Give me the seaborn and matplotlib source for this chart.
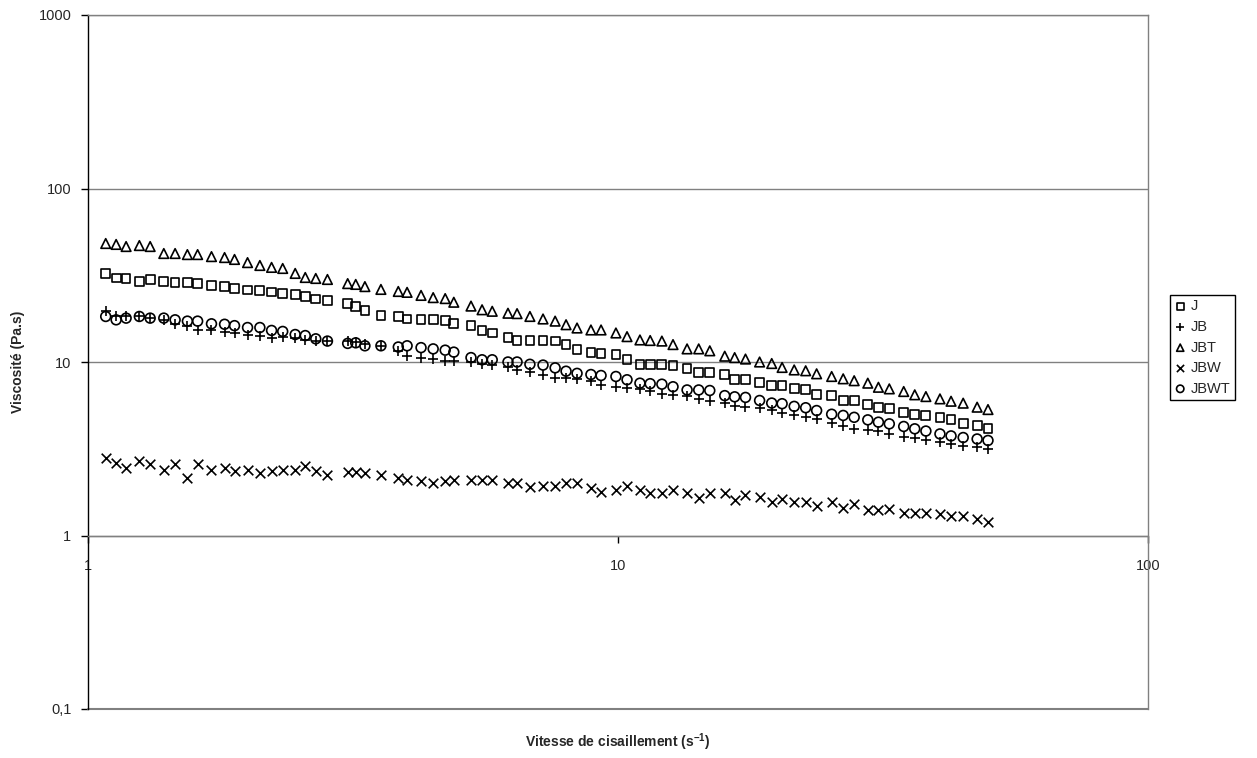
import numpy as np
import pandas as pd
import seaborn as sns
import matplotlib.pyplot as plt

# Shear rate (s-1), shared by all samples
shear_rate = [1.08, 1.13, 1.18, 1.25, 1.31, 1.39, 1.46, 1.54, 1.61, 1.71,
              1.81, 1.89, 2.00, 2.11, 2.22, 2.33, 2.46, 2.57, 2.69, 2.83,
              3.09, 3.20, 3.33, 3.57, 3.85, 4.00, 4.25, 4.48, 4.72, 4.90,
              5.28, 5.54, 5.79, 6.20, 6.45, 6.82, 7.22, 7.61, 7.98, 8.37,
              8.89, 9.29, 9.91, 10.4, 11.0, 11.5, 12.1, 12.7, 13.5, 14.2,
              14.9, 15.9, 16.6, 17.4, 18.5, 19.5, 20.4, 21.5, 22.6, 23.7,
              25.3, 26.6, 27.9, 29.6, 31.0, 32.5, 34.6, 36.3, 38.1, 40.5,
              42.5, 44.8, 47.6, 49.9]

# Viscosity (Pa.s) per sample
visc_J = [32.2, 30.5, 30.2, 29.0, 30.0, 29.2, 28.8, 28.6, 28.3, 27.6,
          27.2, 26.5, 26.0, 25.8, 25.3, 24.9, 24.4, 23.8, 23.1, 22.6,
          21.8, 20.9, 19.8, 18.6, 18.3, 17.7, 17.5, 17.5, 17.4, 16.7,
          16.3, 15.2, 14.7, 13.9, 13.3, 13.3, 13.3, 13.2, 12.6, 11.8,
          11.4, 11.2, 11.0, 10.3, 9.7, 9.7, 9.7, 9.55, 9.14, 8.74,
          8.74, 8.47, 7.9, 7.9, 7.65, 7.32, 7.32, 7.0, 6.92, 6.5,
          6.41, 6.0, 6.0, 5.69, 5.49, 5.42, 5.14, 4.96, 4.92, 4.77,
          4.64, 4.40, 4.30, 4.12]
visc_JB = [19.8, 18.3, 18.5, 18.3, 17.9, 17.5, 16.6, 16.2, 15.3, 15.2,
           14.8, 14.6, 14.4, 14.2, 13.7, 13.9, 13.7, 13.4, 13.3, 13.3,
           13.2, 13.0, 12.7, 12.4, 11.5, 10.9, 10.6, 10.4, 10.2, 10.2,
           10.0, 9.7, 9.55, 9.4, 9.0, 8.8, 8.4, 8.1, 8.1, 8.0,
           7.75, 7.4, 7.2, 7.1, 7.0, 6.8, 6.5, 6.45, 6.4, 6.1,
           5.95, 5.8, 5.6, 5.5, 5.4, 5.3, 5.1, 4.95, 4.8, 4.7,
           4.44, 4.3, 4.12, 4.06, 4.0, 3.85, 3.72, 3.65, 3.53, 3.45,
           3.35, 3.3, 3.23, 3.16]
visc_JBT = [48.2, 47.6, 46.3, 46.9, 46.3, 42.2, 42.2, 41.6, 41.6, 40.5,
            40.0, 39.0, 37.4, 36.0, 35.1, 34.6, 32.4, 30.7, 30.3, 29.9,
            28.3, 28.0, 27.2, 26.2, 25.5, 25.2, 24.2, 23.5, 23.2, 22.1,
            21.0, 20.0, 19.6, 19.1, 19.0, 18.3, 17.7, 17.2, 16.4, 15.7,
            15.3, 15.3, 14.7, 14.0, 13.4, 13.3, 13.2, 12.6, 11.9, 11.9,
            11.6, 10.8, 10.6, 10.4, 10.0, 9.8, 9.3, 9.0, 8.9, 8.55,
            8.25, 8.0, 7.8, 7.55, 7.15, 7.0, 6.76, 6.47, 6.32, 6.13,
            5.94, 5.79, 5.49, 5.32]
visc_JBW = [2.80, 2.62, 2.46, 2.68, 2.57, 2.40, 2.57, 2.15, 2.57, 2.38,
            2.46, 2.35, 2.40, 2.28, 2.35, 2.38, 2.40, 2.51, 2.35, 2.22,
            2.32, 2.32, 2.28, 2.22, 2.15, 2.10, 2.06, 2.01, 2.06, 2.10,
            2.10, 2.10, 2.10, 2.01, 2.01, 1.91, 1.92, 1.92, 2.01, 2.00,
            1.88, 1.78, 1.84, 1.92, 1.83, 1.75, 1.75, 1.83, 1.75, 1.65,
            1.75, 1.75, 1.60, 1.71, 1.67, 1.56, 1.62, 1.56, 1.56, 1.48,
            1.56, 1.44, 1.52, 1.41, 1.41, 1.42, 1.35, 1.35, 1.35, 1.33,
            1.30, 1.29, 1.24, 1.20]
visc_JBWT = [18.3, 17.5, 17.9, 18.3, 17.9, 17.9, 17.5, 17.2, 17.2, 16.6,
             16.5, 16.2, 15.8, 15.8, 15.2, 15.0, 14.4, 14.2, 13.6, 13.2,
             12.8, 12.9, 12.4, 12.4, 12.2, 12.4, 12.1, 11.9, 11.7, 11.4,
             10.6, 10.3, 10.3, 10.0, 10.0, 9.7, 9.6, 9.25, 8.85, 8.6,
             8.47, 8.36, 8.25, 7.9, 7.55, 7.5, 7.45, 7.2, 6.9, 6.9,
             6.85, 6.4, 6.3, 6.25, 6.0, 5.8, 5.75, 5.55, 5.45, 5.25,
             5.0, 4.92, 4.8, 4.64, 4.5, 4.4, 4.25, 4.12, 4.0, 3.85,
             3.75, 3.67, 3.6, 3.53]

series_names = ['J', 'JB', 'JBT', 'JBW', 'JBWT']
y_ticks = [0.1, 1, 10, 100, 1000]
y_tick_labels = ['0,1', '1', '10', '100', '1000']
x_ticks = [1, 10, 100]
x_tick_labels = ['1', '10', '100']

df = pd.DataFrame({'shear': shear_rate, 'J': visc_J, 'JB': visc_JB,
                   'JBT': visc_JBT, 'JBW': visc_JBW, 'JBWT': visc_JBWT})

sns.set_style('white')
plt.rcParams['font.family'] = ['Liberation Sans', 'DejaVu Sans']
plt.rcParams['mathtext.fontset'] = 'custom'
plt.rcParams['mathtext.rm'] = 'Liberation Sans'
plt.rcParams['mathtext.bf'] = 'Liberation Sans:bold'

fig = plt.figure(figsize=(12.57, 7.58), dpi=100)
ax = fig.add_axes([88 / 1257, 1 - 709 / 758, 1060 / 1257, 694 / 758])

# open markers for each sample, all black
styles = {'J': ('s', 40), 'JB': ('+', 62), 'JBT': ('^', 48),
          'JBW': ('x', 48), 'JBWT': ('o', 50)}
for name in series_names:
    mk, size = styles[name]
    if mk in ('+', 'x'):
        sns.scatterplot(data=df, x='shear', y=name, marker=mk, s=size,
                        color='black', linewidth=1.2, label=name, ax=ax)
    else:
        sns.scatterplot(data=df, x='shear', y=name, marker=mk, s=size,
                        color='black', facecolors='none', edgecolor='black',
                        linewidth=1.2, label=name, ax=ax)

ax.set_xscale('log')
ax.set_yscale('log')
ax.set_xlim(1, 100)
ax.set_ylim(0.1, 1000)
ax.set_yticks(y_ticks, y_tick_labels)
ax.set_xticks(x_ticks, x_tick_labels)
ax.minorticks_off()

# horizontal gridlines only
ax.grid(axis='y', color='#808080', linewidth=1)
ax.grid(axis='x', visible=False)
ax.axhline(0.1, color='#808080', linewidth=1.5, clip_on=False)

# x axis crosses the y axis at 1
ax.spines['bottom'].set_position(('data', 1))
ax.spines['bottom'].set_color('#808080')
ax.spines['left'].set_color('black')
ax.spines['top'].set_color('#808080')
ax.spines['right'].set_color('#808080')
for sp in ax.spines.values():
    sp.set_linewidth(1)

ax.tick_params(axis='y', direction='out', length=5, width=1, color='black',
               pad=7, labelsize=10.5, left=True)
ax.tick_params(axis='x', direction='out', length=5, width=1, color='black',
               pad=12, labelsize=10.5, bottom=True)

ax.set_xlabel('Vitesse de cisaillement (s$^{\\mathbf{-1}}$)', fontsize=10,
              fontweight='bold')
ax.xaxis.set_label_coords(0.5, (709 - 742) / 694)
ax.xaxis.label.set_va('center')
ax.set_ylabel('Viscosité (Pa.s)', fontsize=10, fontweight='bold')
ax.yaxis.set_label_coords((18 - 88) / 1060, 0.5)
ax.yaxis.label.set_va('center')

leg = ax.legend(loc='upper left', bbox_to_anchor=(1170 / 1257, 1 - 295 / 758),
                bbox_transform=fig.transFigure, frameon=True, fancybox=False,
                edgecolor='black', framealpha=1, fontsize=10.5, borderpad=0.3,
                labelspacing=0.45, handlelength=0.8, handletextpad=0.3,
                borderaxespad=0, markerscale=0.75, scatterpoints=1)
leg.get_frame().set_linewidth(1)

fig.savefig('out.png', dpi=100)
